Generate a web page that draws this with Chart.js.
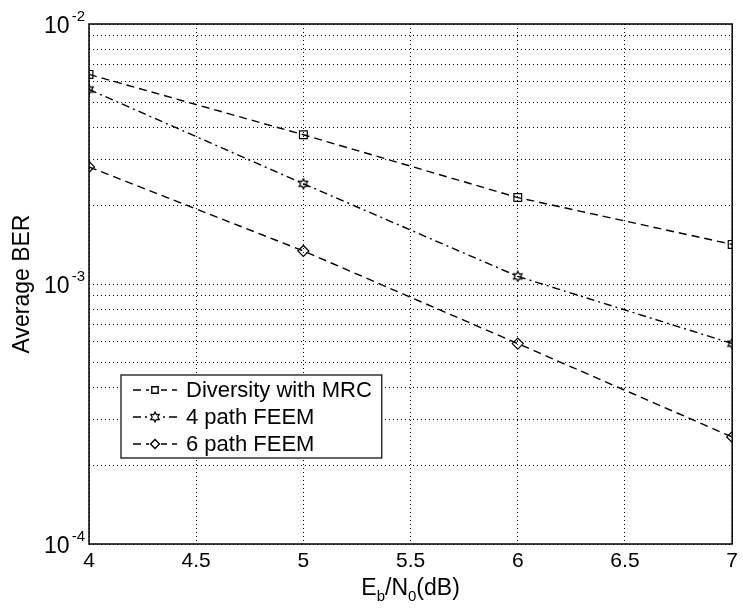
<!DOCTYPE html>
<html>
<head>
<meta charset="utf-8">
<script src="https://cdn.jsdelivr.net/npm/chart.js@4.4.1/dist/chart.umd.min.js"></script>
<style>
  html, body { margin: 0; padding: 0; background: #fff; }
  #wrap { width: 743px; height: 609px; }
</style>
</head>
<body>
<div id="wrap"><canvas id="chart" width="743" height="609"></canvas></div>
<script>
// Eb/N0 (dB) where the curves were computed
var ebno = [4, 5, 6, 7];
var xTickValues = [4, 4.5, 5, 5.5, 6, 6.5, 7];
var xTickLabels = ["4", "4.5", "5", "5.5", "6", "6.5", "7"];

// average BER
var berMRC   = [6.4e-3, 3.75e-3, 2.15e-3, 1.42e-3];
var ber4path = [5.6e-3, 2.43e-3, 1.07e-3, 5.9e-4];
var ber6path = [2.82e-3, 1.34e-3, 5.9e-4, 2.58e-4];

var seriesLabels = ["Diversity with MRC", "4 path FEEM", "6 path FEEM"];

// y decades and their exponent labels
var yDecades = [1e-4, 1e-3, 1e-2];
var yExponents = ["-4", "-3", "-2"];

var FONT = "'Liberation Sans', Arial, Helvetica, sans-serif";

// log grid lines 1..9 in every decade
var yGrid = [];
for (var d = 0; d < yDecades.length - 1; d++) {
  for (var m = 1; m < 10; m++) yGrid.push(m * yDecades[d]);
}
yGrid.push(yDecades[yDecades.length - 1]);

// six pointed star marker (matlab 'h')
function hexagram(size) {
  var c = document.createElement('canvas');
  c.width = size; c.height = size;
  var g = c.getContext('2d');
  var cx = size / 2, cy = size / 2, r = size / 2 - 1;
  g.strokeStyle = '#000';
  g.lineWidth = 1.2;
  g.beginPath();
  for (var k = 0; k < 12; k++) {
    var a = -Math.PI / 2 + k * Math.PI / 6;
    var rr = (k % 2 === 0) ? r : r * 0.55;
    var px = cx + rr * Math.cos(a), py = cy + rr * Math.sin(a);
    if (k === 0) g.moveTo(px, py); else g.lineTo(px, py);
  }
  g.closePath();
  g.stroke();
  return c;
}
var starImg = hexagram(12);

function toXY(ys) {
  return ys.map(function (v, i) { return { x: ebno[i], y: v }; });
}

var data = {
  datasets: [
    {
      label: seriesLabels[0],
      data: toXY(berMRC),
      borderColor: "#000",
      backgroundColor: "#fff",
      borderWidth: 1.4,
      borderDash: [8, 5],
      pointStyle: "rect",
      pointRadius: 5.5,
      pointBorderWidth: 1.2,
      pointBorderColor: "#000",
      pointBackgroundColor: "rgba(0,0,0,0)",
      tension: 0
    },
    {
      label: seriesLabels[1],
      data: toXY(ber4path),
      borderColor: "#000",
      backgroundColor: "#fff",
      borderWidth: 1.4,
      borderDash: [8, 4, 2, 4],
      pointStyle: starImg,
      pointRadius: 6,
      tension: 0
    },
    {
      label: seriesLabels[2],
      data: toXY(ber6path),
      borderColor: "#000",
      backgroundColor: "#fff",
      borderWidth: 1.4,
      borderDash: [8, 5],
      pointStyle: "rectRot",
      pointRadius: 5.5,
      pointBorderWidth: 1.2,
      pointBorderColor: "#000",
      pointBackgroundColor: "rgba(0,0,0,0)",
      tension: 0
    }
  ]
};

// box round the plot, y tick labels with exponents, x title with subscripts, legend
var decorations = {
  id: "decorations",
  afterDraw: function (chart) {
    var ctx = chart.ctx;
    var a = chart.chartArea;
    var ys = chart.scales.y;
    ctx.save();

    ctx.strokeStyle = "#000";
    ctx.lineWidth = 1.5;
    ctx.setLineDash([]);
    ctx.strokeRect(a.left, a.top, a.right - a.left, a.bottom - a.top);

    // y labels 10^n
    ctx.fillStyle = "#000";
    ctx.textBaseline = "alphabetic";
    for (var i = 0; i < yDecades.length; i++) {
      var py = ys.getPixelForValue(yDecades[i]);
      ctx.font = "15px " + FONT;
      ctx.textAlign = "right";
      var supW = ctx.measureText(yExponents[i]).width;
      ctx.fillText(yExponents[i], a.left - 4, py - 3);
      ctx.font = "23px " + FONT;
      ctx.fillText("10", a.left - 6 - supW, py + 9);
    }

    // x title E_b/N_0(dB)
    var parts = [["E", 23, 0], ["b", 15, 6], ["/N", 23, 0], ["0", 15, 6], ["(dB)", 23, 0]];
    var total = 0;
    parts.forEach(function (p) { ctx.font = p[1] + "px " + FONT; total += ctx.measureText(p[0]).width; });
    var tx = (a.left + a.right) / 2 - total / 2;
    var base = 595;
    ctx.textAlign = "left";
    parts.forEach(function (p) {
      ctx.font = p[1] + "px " + FONT;
      ctx.fillText(p[0], tx, base + p[2]);
      tx += ctx.measureText(p[0]).width;
    });

    // legend
    ctx.font = "22px " + FONT;
    var lx = 121, ltop = 375, lh = 83;
    var textW = 0;
    chart.data.datasets.forEach(function (ds) { textW = Math.max(textW, ctx.measureText(ds.label).width); });
    var lw = 65 + textW + 10;
    ctx.fillStyle = "#fff";
    ctx.fillRect(lx, ltop, lw, lh);
    ctx.strokeStyle = "#000";
    ctx.lineWidth = 1.2;
    ctx.strokeRect(lx, ltop, lw, lh);
    ctx.textBaseline = "middle";
    chart.data.datasets.forEach(function (ds, k) {
      var rowY = ltop + 15 + k * 27;
      ctx.strokeStyle = ds.borderColor;
      ctx.lineWidth = ds.borderWidth;
      ctx.setLineDash(ds.borderDash);
      ctx.beginPath();
      ctx.moveTo(lx + 12, rowY);
      ctx.lineTo(lx + 56, rowY);
      ctx.stroke();
      ctx.setLineDash([]);
      ctx.fillStyle = "#fff";
      ctx.fillRect(lx + 28, rowY - 6, 12, 12);
      Chart.helpers.drawPoint(ctx, {
        pointStyle: ds.pointStyle,
        radius: ds.pointStyle === starImg ? 6 : 4.5,
        rotation: 0,
        borderWidth: 1.2
      }, lx + 34, rowY);
      ctx.fillStyle = "#000";
      ctx.textAlign = "left";
      ctx.fillText(ds.label, lx + 65, rowY + 1);
    });

    ctx.restore();
  }
};

new Chart(document.getElementById("chart"), {
  type: "line",
  data: data,
  plugins: [decorations],
  options: {
    responsive: false,
    animation: false,
    events: [],
    layout: { padding: { top: 24, right: 6, left: 0, bottom: 0 } },
    plugins: {
      legend: { display: false },
      tooltip: { enabled: false }
    },
    scales: {
      x: {
        type: "linear",
        min: 4,
        max: 7,
        afterBuildTicks: function (scale) {
          scale.ticks = xTickValues.map(function (v) { return { value: v }; });
        },
        afterFit: function (scale) { scale.height = 65; },
        ticks: {
          autoSkip: false,
          maxRotation: 0,
          padding: 5,
          color: "#000",
          font: { family: FONT, size: 21 },
          callback: function (value) {
            var i = xTickValues.indexOf(value);
            return i >= 0 ? xTickLabels[i] : "";
          }
        },
        grid: { color: "#000", lineWidth: 1, drawTicks: false },
        border: { display: false, dash: [1, 3] }
      },
      y: {
        type: "logarithmic",
        min: 1e-4,
        max: 1e-2,
        afterBuildTicks: function (scale) {
          scale.ticks = yGrid.map(function (v) { return { value: v }; });
        },
        afterFit: function (scale) { scale.width = 89; },
        ticks: { display: false, autoSkip: false },
        grid: { color: "#000", lineWidth: 1, drawTicks: false },
        border: { display: false, dash: [1, 3] },
        title: {
          display: true,
          text: "Average BER",
          color: "#000",
          font: { family: FONT, size: 23 },
          padding: { top: 9, bottom: 0 }
        }
      }
    }
  }
});
</script>
</body>
</html>
